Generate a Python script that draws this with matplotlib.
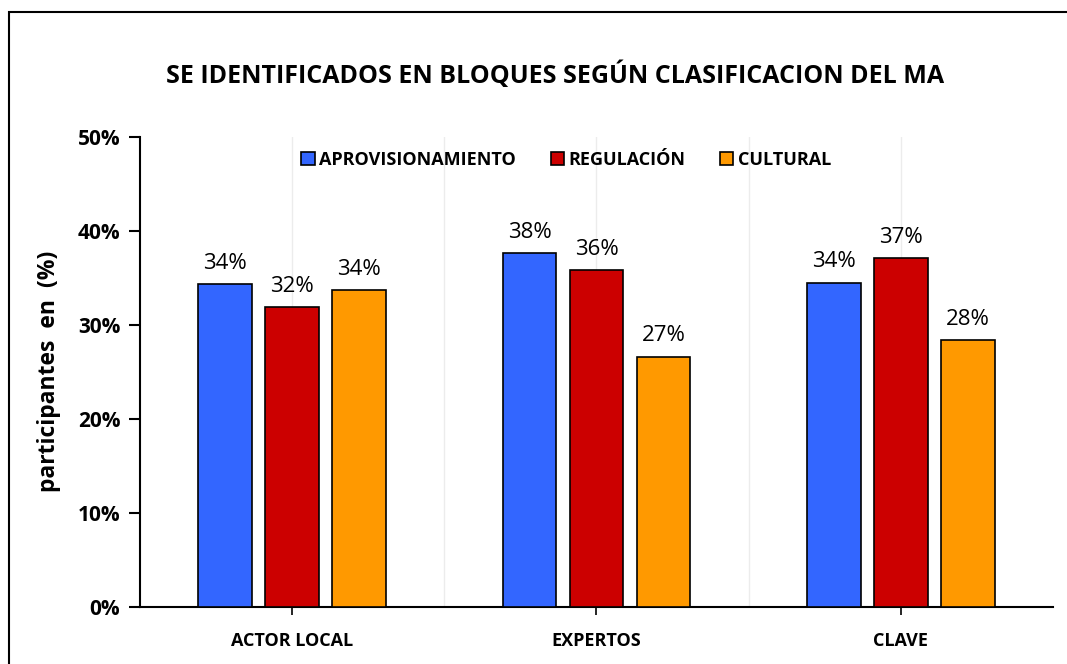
import matplotlib
matplotlib.use("Agg")
import matplotlib.pyplot as plt
import numpy as np
from matplotlib.patches import Rectangle
from matplotlib.ticker import PercentFormatter

plt.rcParams['font.family'] = ['Open Sans', 'DejaVu Sans']

categories = ['ACTOR LOCAL', 'EXPERTOS', 'CLAVE']
series = ['APROVISIONAMIENTO', 'REGULACIÓN', 'CULTURAL']
aprovisionamiento = [0.343, 0.376, 0.345]
regulacion = [0.319, 0.358, 0.371]
cultural = [0.337, 0.266, 0.284]
colors = ['#3366FF', '#CC0000', '#FF9900']

fig = plt.figure(figsize=(10.67, 6.64), dpi=100)
ax = fig.add_axes([0.131, 0.086, 0.856, 0.708])

x = np.arange(len(categories))
width = 0.175
step = 0.22
for i, (vals, name, c) in enumerate(zip([aprovisionamiento, regulacion, cultural], series, colors)):
    bars = ax.bar(x + (i - 1) * step, vals, width, color=c, edgecolor='black',
                  linewidth=1.2, label=name, zorder=3)
    for b, v in zip(bars, vals):
        ax.text(b.get_x() + b.get_width() / 2, v + 0.011, f'{round(v * 100)}%',
                ha='center', va='bottom', fontsize=16, zorder=4)

ax.set_xlim(-0.5, 2.5)
ax.set_ylim(0, 0.5)
ax.set_yticks(np.arange(0, 0.51, 0.1))
ax.yaxis.set_major_formatter(PercentFormatter(1.0, decimals=0))
ax.set_xticks(x)
ax.set_xticklabels(categories)
ax.set_xticks([0.5, 1.5], minor=True)
ax.grid(axis='x', which='both', color='#ececec', linewidth=1, zorder=0)

for s in ['top', 'right']:
    ax.spines[s].set_visible(False)
for s in ['left', 'bottom']:
    ax.spines[s].set_linewidth(1.5)
ax.tick_params(axis='y', labelsize=15, length=8, width=1.5, pad=6)
ax.tick_params(axis='x', labelsize=13, length=6, width=1.2, pad=12)
ax.tick_params(axis='x', which='minor', length=0)
for lab in ax.get_xticklabels() + ax.get_yticklabels():
    lab.set_fontweight('bold')

ax.set_ylabel('participantes  en  (%)', fontsize=16.5, fontweight='bold', labelpad=12)

fig.text(0.52, 0.887, 'SE IDENTIFICADOS EN BLOQUES SEGÚN CLASIFICACION DEL MA',
         ha='center', va='center', fontsize=18, fontweight='bold')

leg = ax.legend(loc='upper center', bbox_to_anchor=(0.467, 1.005), ncol=3, frameon=False,
                prop={'weight': 'bold', 'size': 13}, handlelength=0.75, handleheight=0.75,
                handletextpad=0.25, columnspacing=1.9)

fig.patches.append(Rectangle((9 / 1067, -0.02), 1.1, 1 - 12 / 664 + 0.02,
                             transform=fig.transFigure, fill=False,
                             edgecolor='black', linewidth=1.5))

fig.savefig('out.png', dpi=100)
